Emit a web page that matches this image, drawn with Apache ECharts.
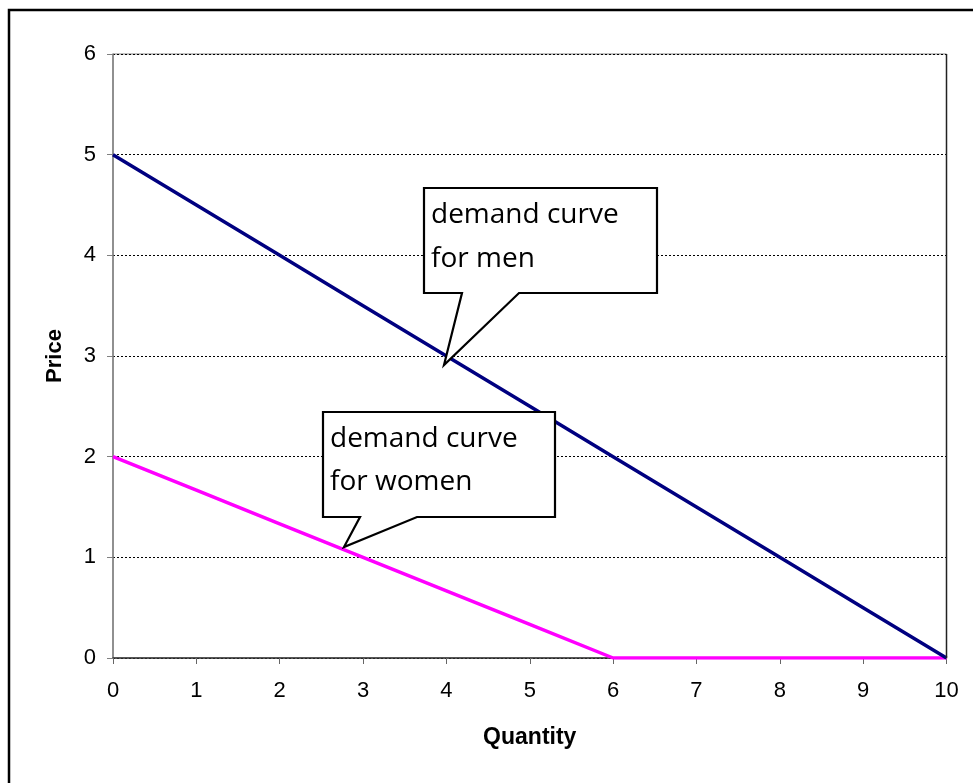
<!DOCTYPE html>
<html>
<head>
<meta charset="utf-8">
<script src="https://cdn.jsdelivr.net/npm/echarts@6/dist/echarts.min.js"></script>
<style>
html,body{margin:0;padding:0;background:#fff;}
#chart{width:973px;height:783px;}
</style>
</head>
<body>
<div id="chart"></div>
<script>
const quantities = [0,1,2,3,4,5,6,7,8,9,10];
const menPrices = [5,4.5,4,3.5,3,2.5,2,1.5,1,0.5,0];
const womenPrices = [2,1.667,1.333,1,0.667,0.333,0,0,0,0,0];
const xTicks = [0,1,2,3,4,5,6,7,8,9,10];
const yTicks = [0,1,2,3,4,5,6];
const menLabel = ['demand curve','for men'];
const womenLabel = ['demand curve','for women'];

const chart = echarts.init(document.getElementById('chart'), null, {renderer:'canvas'});
const font = 'Liberation Sans, Arial, sans-serif';
const calloutFont = '"Open Sans", sans-serif';

function callout(box, base, tip, lines, textX, midY, lh){
  const [l,t,r,b] = box;
  const pts = [[l,t],[r,t],[r,b],[base[1],b],tip,[base[0],b],[l,b]];
  const els = [{
    type:'polygon', z:100,
    shape:{points:pts},
    style:{fill:'#fff', stroke:'#000', lineWidth:2.2, lineJoin:'miter'}
  }];
  lines.forEach((s,i)=>{
    els.push({type:'text', z:101, x:textX, y:midY+i*lh,
      style:{text:s, fill:'#000', font:'28px '+calloutFont, verticalAlign:'middle', align:'left'}});
  });
  return els;
}

const option = {
  animation:false,
  backgroundColor:'#fff',
  grid:{left:113, top:54, right:26.5, bottom:125, show:true, borderColor:'#808080', borderWidth:1},
  xAxis:{
    type:'value', min:0, max:10, interval:1,
    name:'Quantity', nameLocation:'middle', nameGap:68,
    nameTextStyle:{fontFamily:font, fontWeight:'bold', fontSize:23, color:'#000'},
    axisLine:{onZero:false, lineStyle:{color:'#333', width:1.5}},
    axisTick:{show:true, inside:false, length:6, lineStyle:{color:'#666'}},
    axisLabel:{fontFamily:font, fontSize:22, color:'#000', margin:22},
    splitLine:{show:false}
  },
  yAxis:{
    type:'value', min:0, max:6, interval:1,
    name:'Price', nameLocation:'middle', nameGap:47, nameRotate:90,
    nameTextStyle:{fontFamily:font, fontWeight:'bold', fontSize:22, color:'#000'},
    axisLine:{show:true, lineStyle:{color:'#808080', width:1.5}},
    axisTick:{show:true, inside:false, length:6, lineStyle:{color:'#808080'}},
    axisLabel:{fontFamily:font, fontSize:22, color:'#000', margin:17},
    splitLine:{show:true, lineStyle:{color:'#000', type:[2,2], width:1}}
  },
  series:[
    {name:'men', type:'line', data:quantities.map((q,i)=>[q,menPrices[i]]),
     symbol:'none', lineStyle:{color:'#000080', width:3.5}, z:3},
    {name:'women', type:'line', data:quantities.map((q,i)=>[q,womenPrices[i]]),
     symbol:'none', lineStyle:{color:'#FF00FF', width:3.5}, z:2}
  ],
  graphic:[
    {type:'rect', z:0, shape:{x:9, y:10, width:1200, height:1200}, style:{fill:null, stroke:'#000', lineWidth:2.5}},
    {type:'line', z:50, shape:{x1:946.5, y1:54, x2:946.5, y2:658}, style:{stroke:'#222', lineWidth:1.5}},
    ...callout([424,188,657,293],[462,519],[444,365],menLabel,431,215,44),
    ...callout([323,412,555,517],[360,417],[344,547],womenLabel,330,439,43)
  ]
};
chart.setOption(option);
</script>
</body>
</html>
